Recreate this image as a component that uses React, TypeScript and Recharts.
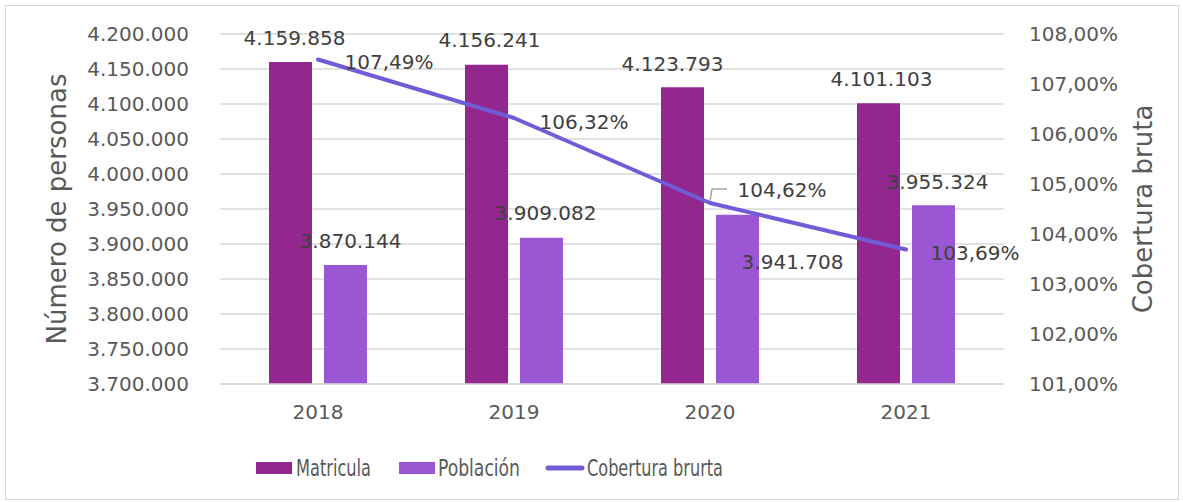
import React from "react";
import {
  ComposedChart,
  Bar,
  Line,
  XAxis,
  YAxis,
  CartesianGrid,
  Legend,
  LabelList,
} from "recharts";

const years = ["2018", "2019", "2020", "2021"];
const matricula = [4159858, 4156241, 4123793, 4101103];
const poblacion = [3870144, 3909082, 3941708, 3955324];
const cobertura = [107.49, 106.32, 104.62, 103.69];
const leftTicks = [
  3700000, 3750000, 3800000, 3850000, 3900000, 3950000, 4000000, 4050000,
  4100000, 4150000, 4200000,
];
const rightTicks = [101, 102, 103, 104, 105, 106, 107, 108];

// where each data label sits, relative to its mark (px)
const matriculaLabelPos = [[4, -24], [3, -25], [-10, -23], [3, -24]];
const poblacionLabelPos = [[5, -24], [4, -25], [55, 47], [4, -23]];
const coberturaLabelPos = [[71, 2], [70, 4], [72, -13], [69, 3]];

const data = years.map((year, i) => ({
  year,
  matricula: matricula[i],
  poblacion: poblacion[i],
  cobertura: cobertura[i],
}));

const COLOR_MAT = "#92278F";
const COLOR_POB = "#9B57D3";
const COLOR_COB = "#735BD8";
const NUM_FONT = "'DejaVu Sans', sans-serif";
const WORD_FONT = "'DejaVu Sans Condensed', 'DejaVu Sans', sans-serif";

const fmtNum = (n: number) =>
  String(Math.round(n)).replace(/\B(?=(\d{3})+(?!\d))/g, ".");
const fmtPct = (v: number) => v.toFixed(2).replace(".", ",") + "%";

const barLabel = (pos: number[][]) => (props: any) => {
  const x = Number(props.x);
  const y = Number(props.y);
  const w = Number(props.width);
  const [dx, dy] = pos[props.index] ?? [0, 0];
  return (
    <text
      x={x + w / 2 + dx}
      y={y + dy}
      textAnchor="middle"
      dominantBaseline="central"
      fill="#404040"
      fontSize={20}
      fontFamily={NUM_FONT}
    >
      {fmtNum(Number(props.value))}
    </text>
  );
};

const lineLabel = (props: any) => {
  const x = Number(props.x);
  const y = Number(props.y);
  const [dx, dy] = coberturaLabelPos[props.index] ?? [0, 0];
  return (
    <g>
      {props.index === 2 && (
        <path
          d={`M${x},${y - 2} L${x + 2},${y - 14} L${x + 17},${y - 14}`}
          stroke="#a6a6a6"
          strokeWidth={1.5}
          fill="none"
        />
      )}
      <text
        x={x + dx}
        y={y + dy}
        textAnchor="middle"
        dominantBaseline="central"
        fill="#404040"
        fontSize={20}
        fontFamily={NUM_FONT}
      >
        {fmtPct(Number(props.value))}
      </text>
    </g>
  );
};

const AxisTitle = ({ viewBox, text, baseX }: any) => {
  const cy = viewBox.y + viewBox.height / 2;
  return (
    <text
      transform={`translate(${baseX},${cy}) rotate(-90)`}
      textAnchor="middle"
      fill="#595959"
      fontSize={26}
      fontFamily={NUM_FONT}
    >
      {text}
    </text>
  );
};

const legendText = {
  fill: "#595959",
  fontSize: 23,
  fontFamily: WORD_FONT,
  lengthAdjust: "spacingAndGlyphs",
} as const;

const LegendBox = () => (
  <svg width={1183} height={30} style={{ display: "block" }}>
    <rect x={256} y={10} width={36} height={12} fill={COLOR_MAT} />
    <text x={296} y={24} textLength={75} {...legendText}>
      Matricula
    </text>
    <rect x={399} y={10} width={36} height={12} fill={COLOR_POB} />
    <text x={438} y={24} textLength={82} {...legendText}>
      Población
    </text>
    <line
      x1={548}
      y1={16}
      x2={582}
      y2={16}
      stroke={COLOR_COB}
      strokeWidth={5}
      strokeLinecap="round"
    />
    <text x={587} y={24} textLength={136} {...legendText}>
      Cobertura brurta
    </text>
  </svg>
);

export default function App() {
  return (
    <div
      style={{
        position: "absolute",
        left: 0,
        top: 0,
        width: 1183,
        height: 502,
        background: "#fff",
      }}
    >
      <div
        style={{
          position: "absolute",
          left: 5,
          top: 5,
          width: 1172,
          height: 493,
          border: "1.5px solid #d9d9d9",
          pointerEvents: "none",
        }}
      />
      <ComposedChart
        width={1183}
        height={502}
        data={data}
        margin={{ top: 34, right: 0, bottom: 20, left: 0 }}
        barGap={12}
      >
        <CartesianGrid
          yAxisId="left"
          vertical={false}
          stroke="#d9d9d9"
          strokeWidth={1.5}
        />
        <XAxis
          dataKey="year"
          height={68}
          tickLine={false}
          axisLine={{ stroke: "#d9d9d9", strokeWidth: 1.5 }}
          tickMargin={15}
          tick={{ fill: "#595959", fontSize: 20, fontFamily: NUM_FONT }}
        />
        <YAxis
          yAxisId="left"
          width={220}
          domain={[3700000, 4200000]}
          ticks={leftTicks}
          interval={0}
          tickFormatter={fmtNum}
          axisLine={false}
          tickLine={false}
          tickMargin={25}
          tick={{ fill: "#595959", fontSize: 20, fontFamily: NUM_FONT }}
          label={<AxisTitle text="Número de personas" baseX={66} />}
        />
        <YAxis
          yAxisId="right"
          orientation="right"
          width={179}
          domain={[101, 108]}
          ticks={rightTicks}
          interval={0}
          tickFormatter={fmtPct}
          axisLine={false}
          tickLine={false}
          tickMargin={19}
          tick={{ fill: "#595959", fontSize: 20, fontFamily: NUM_FONT }}
          label={<AxisTitle text="Cobertura bruta" baseX={1152} />}
        />
        <Bar
          yAxisId="left"
          dataKey="matricula"
          name="Matricula"
          fill={COLOR_MAT}
          barSize={43}
          isAnimationActive={false}
        >
          <LabelList dataKey="matricula" content={barLabel(matriculaLabelPos)} />
        </Bar>
        <Bar
          yAxisId="left"
          dataKey="poblacion"
          name="Población"
          fill={COLOR_POB}
          barSize={43}
          isAnimationActive={false}
        >
          <LabelList dataKey="poblacion" content={barLabel(poblacionLabelPos)} />
        </Bar>
        <Line
          yAxisId="right"
          dataKey="cobertura"
          name="Cobertura brurta"
          type="linear"
          stroke={COLOR_COB}
          strokeWidth={4}
          strokeLinecap="round"
          strokeLinejoin="round"
          dot={false}
          isAnimationActive={false}
        >
          <LabelList dataKey="cobertura" content={lineLabel} />
        </Line>
        <Legend
          verticalAlign="bottom"
          content={<LegendBox />}
          wrapperStyle={{ left: 0, width: 1183, height: 30 }}
        />
      </ComposedChart>
    </div>
  );
}
